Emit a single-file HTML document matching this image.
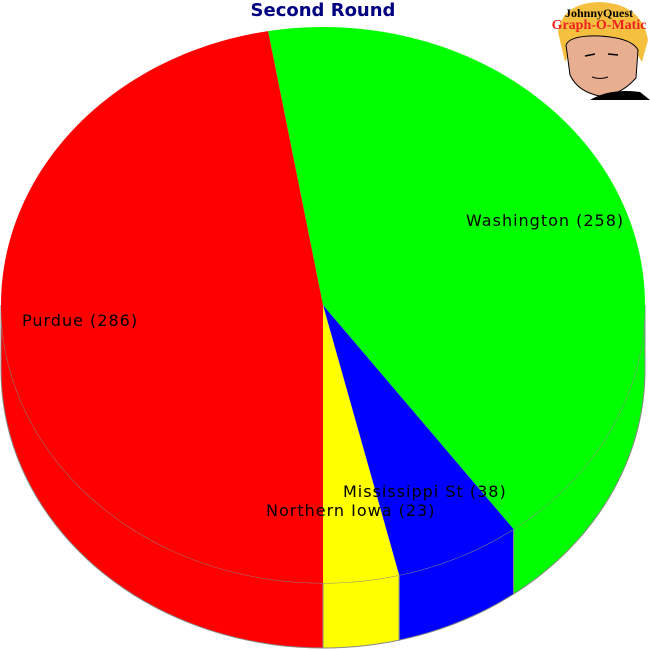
<!DOCTYPE html>
<html><head><meta charset="utf-8"><style>
html,body{margin:0;padding:0;background:#fff;}
svg{display:block;font-family:"DejaVu Sans","Liberation Sans",sans-serif;}
</style></head><body>
<svg id="chart" width="650" height="650" viewBox="0 0 650 650">
<text x="323" y="16" text-anchor="middle" font-size="18" font-weight="bold" fill="#000080">Second Round</text>
<g id="pie"></g>
<g id="labels"></g>
<g>
<rect x="546" y="0" width="104" height="100" fill="#fff"/>
<path d="M558 32 Q562 3 600 2 Q642 4 648 40 L642 62 Q630 40 600 38 Q575 40 565 62 Z" fill="#f5c040"/>
<path d="M566 45 Q570 35 600 36 Q632 38 638 50 L636 78 Q620 96 600 96 Q578 92 570 75 Z" fill="#e8ae90" stroke="#000" stroke-width="1"/>
<path d="M585 56 l10 -2 M608 54 l10 1" stroke="#000" stroke-width="1.5"/>
<path d="M592 77 q8 3 16 0" stroke="#000" fill="none"/>
<path d="M590 100 Q610 88 640 92 L650 100 Z" fill="#000"/>
<text x="599" y="17" text-anchor="middle" font-size="12" font-family="Liberation Serif,serif" font-weight="bold" fill="#000">JohnnyQuest</text>
<text x="599" y="29" text-anchor="middle" font-size="14" font-family="Liberation Serif,serif" font-weight="bold" fill="#ee2020">Graph-O-Matic</text>
</g>
</svg>
<script>
const categories = ["Northern Iowa", "Mississippi St", "Washington", "Purdue"];
const values = [23, 38, 258, 286];
const colors = ["#ffff00", "#0000ff", "#00ff00", "#ff0000"];
const labelPos = [[266,516],[343,497],[466,226],[22,326]];
const cx=323, cy=305, rx=322, ry=278, depth=65;
const NS="http://www.w3.org/2000/svg";
const pie=document.getElementById('pie'), lab=document.getElementById('labels');
const total=values.reduce((a,b)=>a+b,0);
function pt(t,dy){return [cx+rx*Math.sin(t), cy+ry*Math.cos(t)+(dy||0)];}
let start=0;
const slices=[];
values.forEach((v,i)=>{const a0=start/total*2*Math.PI, a1=(start+v)/total*2*Math.PI; slices.push([a0,a1]); start+=v;});
slices.forEach(([a0,a1],i)=>{
  const ranges=[[0,Math.PI/2],[1.5*Math.PI,2*Math.PI]];
  ranges.forEach(([r0,r1])=>{
    const s=Math.max(a0,r0), e=Math.min(a1,r1);
    if(e<=s) return;
    const n=40; let top=[], bot=[];
    for(let k=0;k<=n;k++){const t=s+(e-s)*k/n; top.push(pt(t,0)); bot.push(pt(t,depth));}
    const d="M"+top.map(p=>p.join(",")).join("L")+"L"+bot.reverse().map(p=>p.join(",")).join("L")+"Z";
    const p=document.createElementNS(NS,'path');
    p.setAttribute('d',d); p.setAttribute('fill',colors[i]); p.setAttribute('stroke','#888'); p.setAttribute('stroke-width','1');
    
    
    pie.appendChild(p);
  });
});
slices.forEach(([a0,a1],i)=>{
  const n=120; let pts=[[cx,cy]];
  for(let k=0;k<=n;k++){pts.push(pt(a0+(a1-a0)*k/n,0));}
  const p=document.createElementNS(NS,'path');
  p.setAttribute('d',"M"+pts.map(q=>q.join(",")).join("L")+"Z");
  p.setAttribute('fill',colors[i]);
  
  
  pie.appendChild(p);
});
categories.forEach((c,i)=>{
  const t=document.createElementNS(NS,'text');
  t.setAttribute('x',labelPos[i][0]); t.setAttribute('y',labelPos[i][1]);
  t.setAttribute('font-size','16'); t.setAttribute('letter-spacing','1'); t.setAttribute('fill','#000');
  t.textContent=c+" ("+values[i]+")";
  
  
  lab.appendChild(t);
});
</script>
</body></html>
